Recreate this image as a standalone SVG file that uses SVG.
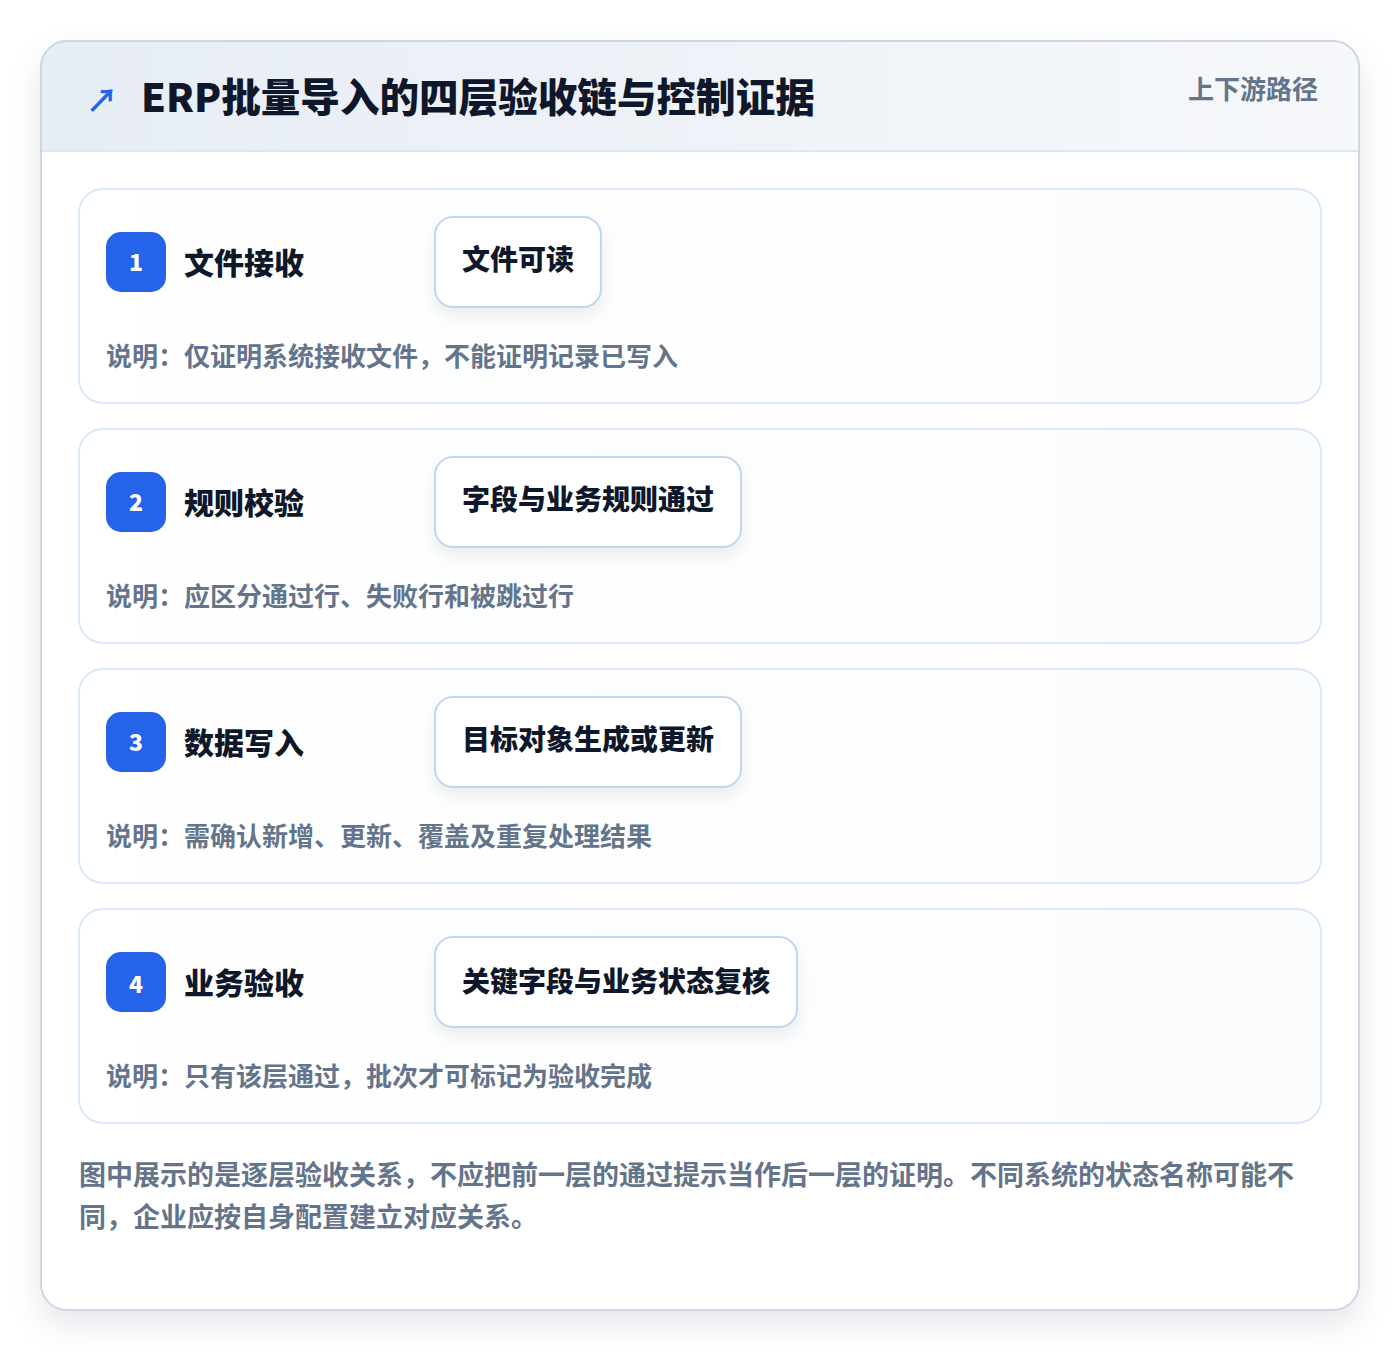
<svg xmlns="http://www.w3.org/2000/svg" width="1400" height="1352" viewBox="0 0 1400 1352">
<defs>
<linearGradient id="hdr" x1="0" y1="0" x2="1" y2="0"><stop offset="0" stop-color="#e7edf5"/><stop offset="1" stop-color="#f6f8fb"/></linearGradient>
<linearGradient id="cardbg" x1="0" y1="0" x2="1" y2="0"><stop offset="0" stop-color="#ffffff"/><stop offset="1" stop-color="#fbfcfe"/></linearGradient>
<filter id="outerShadow" x="-10%" y="-10%" width="120%" height="120%"><feDropShadow dx="0" dy="14" stdDeviation="16" flood-color="#0f172a" flood-opacity="0.10"/></filter>
<filter id="pillShadow" x="-20%" y="-30%" width="140%" height="170%"><feDropShadow dx="0" dy="8" stdDeviation="8" flood-color="#0f172a" flood-opacity="0.07"/></filter>
<clipPath id="outerClip"><rect x="41" y="41" width="1318" height="1269" rx="26"/></clipPath>
<style>
.t{font-family:"Noto Sans CJK SC","Noto Sans",sans-serif}
.title{font-size:39.6px;font-weight:900;fill:#0f172a}
.sub{font-size:26px;font-weight:700;fill:#64748b}
.card{fill:url(#cardbg);stroke:#dbe8f8;stroke-width:2}
.badge{fill:#2563eb}
.num{font-size:23px;font-weight:900;fill:#ffffff}
.lbl{font-size:30px;font-weight:800;fill:#0f172a}
.pill{fill:#ffffff;stroke:#bfd7f3;stroke-width:2;filter:url(#pillShadow)}
.ptxt{font-size:28px;font-weight:800;fill:#0f172a}
.note{font-size:26px;font-weight:700;fill:#64748b}
.foot{font-size:27px;font-weight:700;fill:#64748b}
</style>
</defs>
<rect width="1400" height="1352" fill="#ffffff"/>
<g id="frame">
<rect x="41" y="41" width="1318" height="1269" rx="26" fill="#ffffff" filter="url(#outerShadow)"/>
<g clip-path="url(#outerClip)">
<rect x="41" y="41" width="1318" height="110" fill="url(#hdr)"/>
<line x1="41" y1="151" x2="1359" y2="151" stroke="#dbe7f5" stroke-width="2"/>
</g>
<rect x="41" y="41" width="1318" height="1269" rx="26" fill="none" stroke="#cdd6e2" stroke-width="2"/>
</g>
<g id="header">
<text class="t" x="86" y="112" font-size="32" font-weight="700" fill="#2563eb">↗</text>
<text class="t title" x="141" y="112">ERP批量导入的四层验收链与控制证据</text>
<text class="t sub" x="1318" y="99" text-anchor="end">上下游路径</text>
</g>
<g id="connectors"></g>
<g id="layer1">
<rect class="card" x="79" y="189" width="1242" height="214" rx="24"/>
<rect class="badge" x="106" y="232" width="60" height="60" rx="15"/>
<text class="t num" x="136" y="271" text-anchor="middle">1</text>
<text class="t lbl" x="184" y="274">文件接收</text>
<rect class="pill" x="435" y="217" width="166" height="90" rx="18"/>
<text class="t ptxt" x="462" y="270">文件可读</text>
<text class="t note" x="106" y="366">说明：仅证明系统接收文件，不能证明记录已写入</text>
</g>
<g id="layer2">
<rect class="card" x="79" y="429" width="1242" height="214" rx="24"/>
<rect class="badge" x="106" y="472" width="60" height="60" rx="15"/>
<text class="t num" x="136" y="511" text-anchor="middle">2</text>
<text class="t lbl" x="184" y="514">规则校验</text>
<rect class="pill" x="435" y="457" width="306" height="90" rx="18"/>
<text class="t ptxt" x="462" y="510">字段与业务规则通过</text>
<text class="t note" x="106" y="606">说明：应区分通过行、失败行和被跳过行</text>
</g>
<g id="layer3">
<rect class="card" x="79" y="669" width="1242" height="214" rx="24"/>
<rect class="badge" x="106" y="712" width="60" height="60" rx="15"/>
<text class="t num" x="136" y="751" text-anchor="middle">3</text>
<text class="t lbl" x="184" y="754">数据写入</text>
<rect class="pill" x="435" y="697" width="306" height="90" rx="18"/>
<text class="t ptxt" x="462" y="750">目标对象生成或更新</text>
<text class="t note" x="106" y="846">说明：需确认新增、更新、覆盖及重复处理结果</text>
</g>
<g id="layer4">
<rect class="card" x="79" y="909" width="1242" height="214" rx="24"/>
<rect class="badge" x="106" y="952" width="60" height="60" rx="15"/>
<text class="t num" x="136" y="993" text-anchor="middle">4</text>
<text class="t lbl" x="184" y="994">业务验收</text>
<rect class="pill" x="435" y="937" width="362" height="90" rx="18"/>
<text class="t ptxt" x="462" y="992">关键字段与业务状态复核</text>
<text class="t note" x="106" y="1086">说明：只有该层通过，批次才可标记为验收完成</text>
</g>
<g id="footer">
<text class="t foot" x="79" y="1185">图中展示的是逐层验收关系，不应把前一层的通过提示当作后一层的证明。不同系统的状态名称可能不</text>
<text class="t foot" x="79" y="1227">同，企业应按自身配置建立对应关系。</text>
</g>
</svg>
